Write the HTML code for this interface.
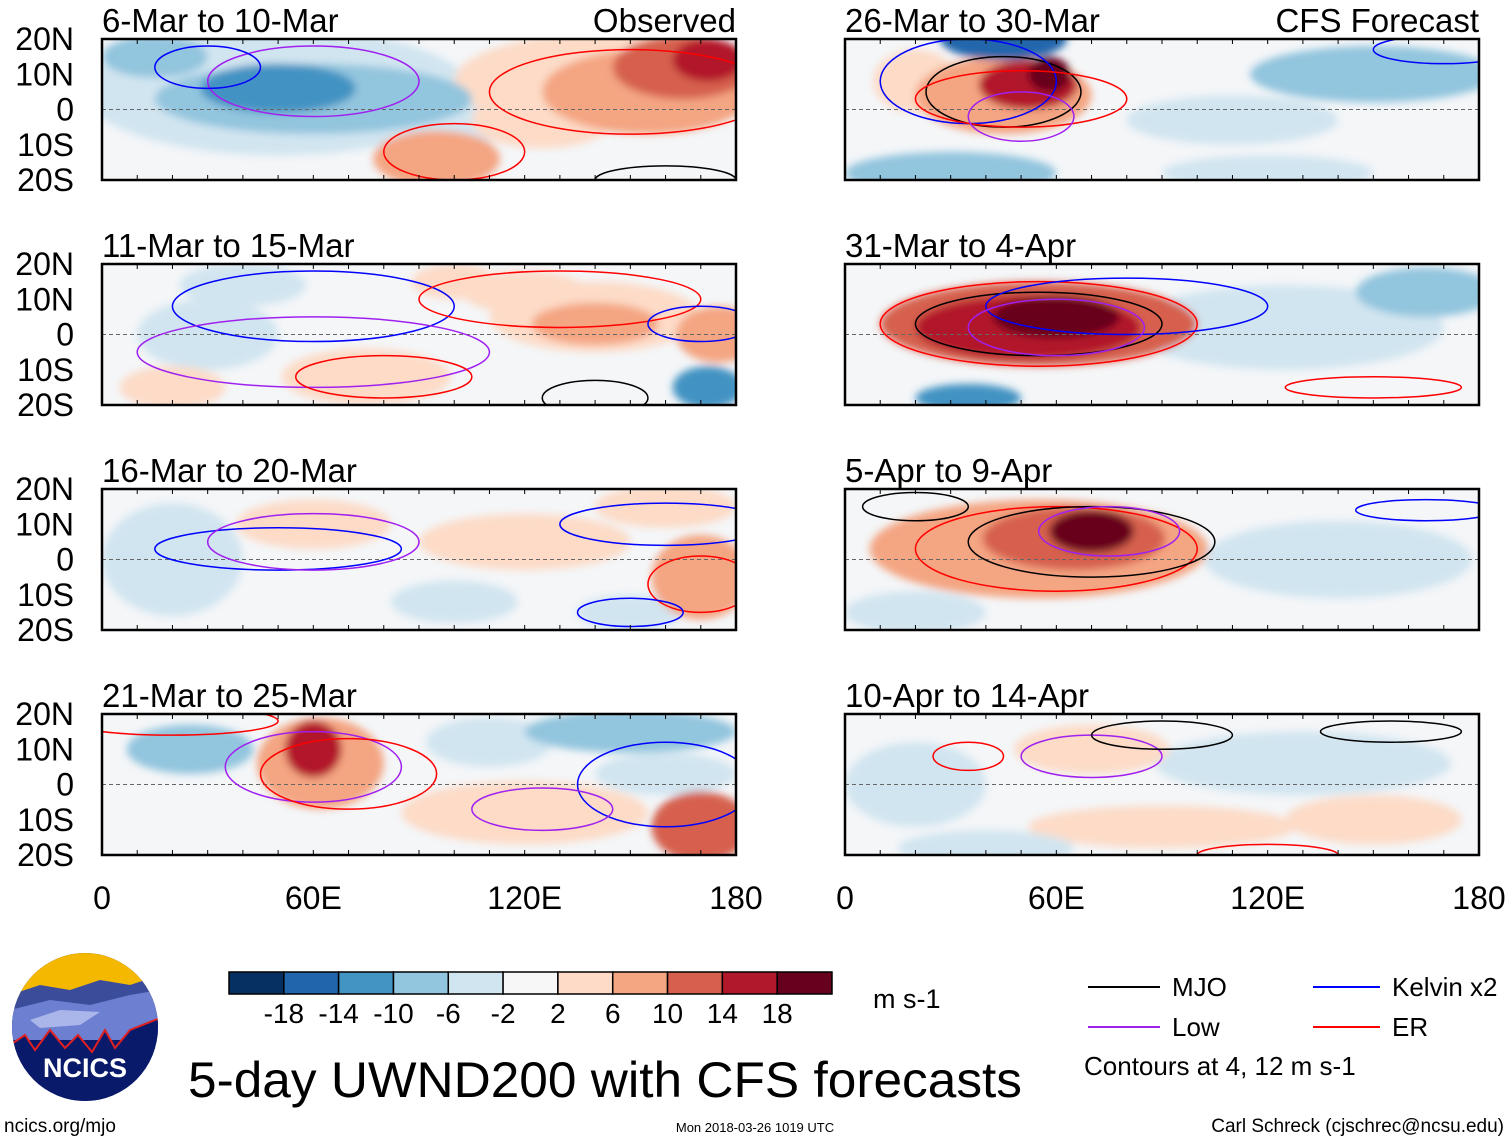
<!DOCTYPE html>
<html><head><meta charset="utf-8"><style>
body{margin:0;background:#fff;width:1510px;height:1142px;overflow:hidden;font-family:"Liberation Sans",sans-serif}
svg text{font-family:"Liberation Sans",sans-serif}
</style></head><body>
<svg id="root" width="1510" height="1142" xmlns="http://www.w3.org/2000/svg">
<defs>
<filter id="blur" x="-20%" y="-50%" width="140%" height="200%"><feGaussianBlur stdDeviation="4"/></filter>
<clipPath id="clipL"><rect x="0" y="0" width="634" height="141"/></clipPath>
</defs>
<g id="panels"></g>
<g id="cbar"></g>
<g>
<clipPath id="logoClip"><ellipse cx="85" cy="1027" rx="73" ry="74"/></clipPath>
<g clip-path="url(#logoClip)">
<rect x="10" y="952" width="150" height="150" fill="#0a1a6b"/>
<rect x="10" y="952" width="150" height="50" fill="#f5b800"/>
<path d="M10 995 L40 985 L70 990 L100 980 L130 985 L160 975 L160 1035 L10 1035Z" fill="#3a4c9a"/>
<path d="M10 1010 L50 1000 L90 1005 L130 995 L160 990 L160 1040 L10 1040Z" fill="#6d7fd0"/>
<path d="M30 1020 L60 1010 L100 1012 L80 1025 L40 1028Z" fill="#aab6ea"/>
<path d="M10 1045 L25 1035 L35 1050 L50 1030 L65 1048 L78 1035 L92 1052 L105 1030 L115 1048 L130 1030 L160 1018 L160 1110 L10 1110Z" fill="#0a1a6b" stroke="#e02020" stroke-width="2"/>
</g>
<text x="85" y="1077" font-size="27" font-weight="bold" fill="#fff" text-anchor="middle">NCICS</text>
</g>
<text x="4" y="1132" font-size="19">ncics.org/mjo</text>
<text x="605" y="1097" font-size="50" text-anchor="middle" textLength="834" lengthAdjust="spacingAndGlyphs">5-day UWND200 with CFS forecasts</text>
<text x="755" y="1132" font-size="13" text-anchor="middle">Mon 2018-03-26 1019 UTC</text>
<text x="1504" y="1132" font-size="19" text-anchor="end">Carl Schreck (cjschrec@ncsu.edu)</text>
<text x="873" y="1008" font-size="27">m s-1</text>
<g>
<g><line x1="1088" y1="987" x2="1160" y2="987" stroke="#000" stroke-width="2"/><text x="1172" y="996" font-size="26">MJO</text></g>
<g><line x1="1313" y1="987" x2="1380" y2="987" stroke="#0000ff" stroke-width="2"/><text x="1392" y="996" font-size="26">Kelvin x2</text></g>
<g><line x1="1088" y1="1027" x2="1160" y2="1027" stroke="#a020f0" stroke-width="2"/><text x="1172" y="1036" font-size="26">Low</text></g>
<g><line x1="1313" y1="1027" x2="1380" y2="1027" stroke="#ff0000" stroke-width="2"/><text x="1392" y="1036" font-size="26">ER</text></g>
<text x="1084" y="1075" font-size="26">Contours at 4, 12 m s-1</text>
</g>
</svg>
<script>
// Colorbar data
const cbarLevels = [-18,-14,-10,-6,-2,2,6,10,14,18];
const cbarColors = ["#053061","#2166ac","#4393c3","#92c5de","#d1e5f0","#f7f7f7","#fddbc7","#f4a582","#d6604d","#b2182b","#67001f"];
// Panel titles
const panelTitles = ["6-Mar to 10-Mar","11-Mar to 15-Mar","16-Mar to 20-Mar","21-Mar to 25-Mar","26-Mar to 30-Mar","31-Mar to 4-Apr","5-Apr to 9-Apr","10-Apr to 14-Apr"];
const latTicks = ["20N","10N","0","10S","20S"];
const latVals = [20,10,0,-10,-20];
const lonTicks = ["0","60E","120E","180"];
const lonVals = [0,60,120,180];
// Anomaly blobs per panel: [lon, lat, rxDeg, ryDeg, value m/s]
const blobs0 = [[50,5,55,18,-4],[60,3,45,10,-7],[50,6,22,7,-11],[100,0,25,10,-5],[145,8,45,14,5],[155,5,30,12,8],[165,12,20,9,12],[172,14,10,6,18],[95,-14,18,8,10],[125,-3,20,8,5],[15,15,15,6,-7]];
const blobs1 = [[140,5,30,10,5],[140,3,18,6,8],[120,12,18,6,5],[172,-15,10,6,-11],[175,0,12,8,8],[75,-12,24,8,4],[40,14,18,6,-3],[100,15,12,5,5],[20,-15,15,6,4],[30,0,20,10,-2]];
const blobs2 = [[170,-5,14,12,9],[160,15,20,6,5],[60,10,22,7,4],[20,0,20,16,-4],[120,5,30,8,3],[100,-12,18,6,-4],[150,-15,15,5,-4]];
const blobs3 = [[62,6,18,13,9],[60,10,8,8,15],[150,15,30,6,-8],[170,-12,14,10,11],[25,10,18,7,-7],[120,-8,35,9,4],[110,12,18,7,-4],[160,3,20,6,-3]];
const blobs4 = [[45,4,25,11,10],[52,7,14,7,16],[58,10,6,5,19],[45,20,18,6,-14],[150,10,35,8,-6],[110,-3,30,7,-3],[30,-18,30,6,-9],[120,-18,30,5,-5],[20,8,12,9,5]];
const blobs5 = [[55,3,45,12,11],[52,2,32,9,16],[60,5,18,6,19],[125,2,45,12,-4],[165,12,20,7,-8],[35,-18,15,4,-12]];
const blobs6 = [[55,3,48,14,8],[65,6,26,9,13],[70,8,12,6,19],[140,0,38,11,-3],[20,-15,20,6,-4]];
const blobs7 = [[70,10,22,7,5],[90,-12,38,6,4],[130,6,42,9,-3],[20,0,20,12,-3],[40,-18,25,5,-4],[150,-10,25,7,3]];
const allBlobs = [blobs0,blobs1,blobs2,blobs3,blobs4,blobs5,blobs6,blobs7];
// Contours per panel: [lon, lat, rxDeg, ryDeg, type]
const contours0 = [[60,8,30,10,"low"],[30,12,15,6,"kelvin"],[150,5,40,12,"er"],[100,-12,20,8,"er"],[160,-20,20,4,"mjo"]];
const contours1 = [[60,8,40,10,"kelvin"],[60,-5,50,10,"low"],[130,10,40,8,"er"],[170,3,15,5,"kelvin"],[140,-18,15,5,"mjo"],[80,-12,25,6,"er"]];
const contours2 = [[50,3,35,6,"kelvin"],[60,5,30,8,"low"],[160,10,30,6,"kelvin"],[170,-7,15,8,"er"],[150,-15,15,4,"kelvin"]];
const contours3 = [[60,5,25,10,"low"],[70,3,25,10,"er"],[160,0,25,12,"kelvin"],[125,-7,20,6,"low"],[20,18,30,4,"er"]];
const contours4 = [[45,5,22,10,"mjo"],[35,8,25,12,"kelvin"],[50,3,30,8,"er"],[170,17,20,4,"kelvin"],[50,-2,15,7,"low"]];
const contours5 = [[55,3,45,12,"er"],[55,3,35,9,"mjo"],[80,8,40,8,"kelvin"],[60,2,25,8,"low"],[150,-15,25,3,"er"]];
const contours6 = [[60,3,40,12,"er"],[70,5,35,10,"mjo"],[75,8,20,7,"low"],[165,14,20,3,"kelvin"],[20,15,15,4,"mjo"]];
const contours7 = [[70,8,20,6,"low"],[90,14,20,4,"mjo"],[155,15,20,3,"mjo"],[35,8,10,4,"er"],[120,-20,20,3,"er"]];
const allContours = [contours0,contours1,contours2,contours3,contours4,contours5,contours6,contours7];
const ctColor = {mjo:"#000",kelvin:"#0000ff",low:"#a020f0",er:"#ff0000"};

const NS="http://www.w3.org/2000/svg";
function mk(tag,attrs,parent){const e=document.createElementNS(NS,tag);for(const k in attrs)e.setAttribute(k,attrs[k]);if(parent)parent.appendChild(e);return e;}
const W=634,H=141;
function xs(lon){return lon/180*W;}
function ys(lat){return (20-lat)/40*H;}
function colorFor(v){let i=0;while(i<cbarLevels.length&&v>cbarLevels[i])i++;return cbarColors[i];}

const panelsG=document.getElementById('panels');
const originsX=[102,845], originsY=[39,264,489,714];
for(let p=0;p<8;p++){
  const ox=originsX[p<4?0:1], oy=originsY[p%4];
  const g=mk('g',{transform:`translate(${ox},${oy})`},panelsG);
  
  
  const inner=mk('g',{'clip-path':'url(#clipL)'},g);
  mk('rect',{x:0,y:0,width:W,height:H,fill:"#f4f6f8"},inner);
  const fg=mk('g',{filter:'url(#blur)'},inner);
  const sorted=allBlobs[p].slice().sort((a,b)=>Math.abs(a[4])-Math.abs(b[4]));
  for(const b of sorted){
    const e=mk('ellipse',{cx:xs(b[0]),cy:ys(b[1]),rx:xs(b[2]),ry:b[3]/40*H,fill:colorFor(b[4])},fg);
    
    
  }
  mk('line',{x1:0,y1:ys(0),x2:W,y2:ys(0),stroke:"#666","stroke-dasharray":"4,3","stroke-width":1},inner);
  for(const c of allContours[p]){
    const e=mk('ellipse',{cx:xs(c[0]),cy:ys(c[1]),rx:xs(c[2]),ry:c[3]/40*H,fill:"none",stroke:ctColor[c[4]],"stroke-width":1.5},inner);
    
    
  }
  mk('rect',{x:0,y:0,width:W,height:H,fill:"none",stroke:"#000","stroke-width":2.5},g);
  for(let l=0;l<=180;l+=10){mk('line',{x1:xs(l),y1:0,x2:xs(l),y2:5,stroke:"#000"},g);mk('line',{x1:xs(l),y1:H,x2:xs(l),y2:H-5,stroke:"#000"},g);}
  const t=mk('text',{x:0,y:-7,'font-size':33},g);t.textContent=panelTitles[p];
  
  
  if(p===0){const o=mk('text',{x:W,y:-7,'font-size':33,'text-anchor':'end'},g);o.textContent="Observed";}
  if(p===4){const o=mk('text',{x:W,y:-7,'font-size':33,'text-anchor':'end'},g);o.textContent="CFS Forecast";}
  if(p<4){
    for(let i=0;i<latTicks.length;i++){
      const lt=mk('text',{x:-28,y:ys(latVals[i])+11,'font-size':32,'text-anchor':'end'},g);lt.textContent=latTicks[i];
      
      
    }
  }
  if(p%4===3){
    for(let i=0;i<lonTicks.length;i++){
      const lt=mk('text',{x:xs(lonVals[i]),y:H+54,'font-size':32,'text-anchor':'middle'},g);lt.textContent=lonTicks[i];
      
      
    }
  }
}
// colorbar
const cb=document.getElementById('cbar');
const cbx=229,cby=972,cbw=603,cbh=22,bw=cbw/cbarColors.length;
for(let i=0;i<cbarColors.length;i++){
  const r=mk('rect',{x:cbx+i*bw,y:cby,width:bw,height:cbh,fill:cbarColors[i],stroke:"#000","stroke-width":1.5},cb);
  
  
}
for(let i=0;i<cbarLevels.length;i++){
  const t=mk('text',{x:cbx+(i+1)*bw,y:1023,'font-size':28,'text-anchor':'middle'},cb);t.textContent=cbarLevels[i];
  
  
}
</script>
</body></html>
